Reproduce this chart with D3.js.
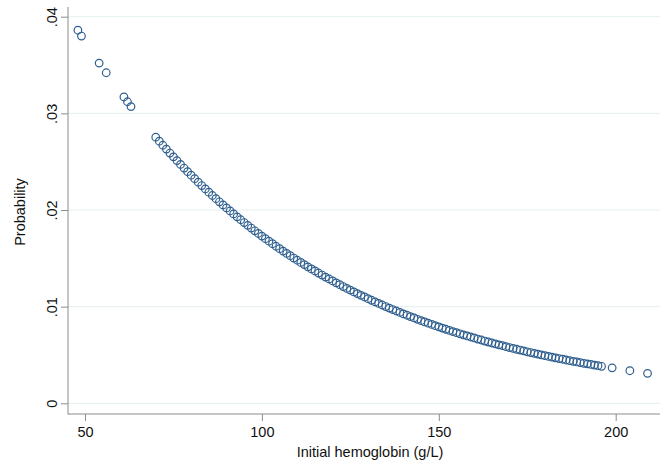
<!DOCTYPE html>
<html>
<head>
<meta charset="utf-8">
<script src="https://cdn.jsdelivr.net/npm/d3@7"></script>
<style>
  body { margin: 0; background: #fff; }
  svg { display: block; font-family: "Liberation Sans", Arial, sans-serif; }
  .tick text { fill: #111; font-size: 14.5px; }
</style>
</head>
<body>
<script>
// initial hemoglobin (g/L) and predicted probability
const hb = [48, 49, 54, 56, 61, 62, 63,
  70, 71, 72, 73, 74, 75, 76, 77, 78, 79,
  80, 81, 82, 83, 84, 85, 86, 87, 88, 89,
  90, 91, 92, 93, 94, 95, 96, 97, 98, 99,
  100, 101, 102, 103, 104, 105, 106, 107, 108, 109,
  110, 111, 112, 113, 114, 115, 116, 117, 118, 119,
  120, 121, 122, 123, 124, 125, 126, 127, 128, 129,
  130, 131, 132, 133, 134, 135, 136, 137, 138, 139,
  140, 141, 142, 143, 144, 145, 146, 147, 148, 149,
  150, 151, 152, 153, 154, 155, 156, 157, 158, 159,
  160, 161, 162, 163, 164, 165, 166, 167, 168, 169,
  170, 171, 172, 173, 174, 175, 176, 177, 178, 179,
  180, 181, 182, 183, 184, 185, 186, 187, 188, 189,
  190, 191, 192, 193, 194, 195, 196,
  199, 204, 209];

const prob = [.0386, .0380, .0352, .0342, .0317, .0312, .0307,
  .02754, .02712, .02670, .02630, .02589, .02550, .02511, .02472, .02434, .02397,
  .02360, .02324, .02288, .02253, .02218, .02184, .02150, .02117, .02085, .02053,
  .02021, .01990, .01959, .01929, .01899, .01870, .01841, .01813, .01785, .01757,
  .01730, .01703, .01677, .01651, .01625, .01600, .01575, .01551, .01527, .01503,
  .01480, .01457, .01435, .01412, .01390, .01369, .01348, .01327, .01306, .01286,
  .01266, .01246, .01227, .01208, .01189, .01171, .01152, .01135, .01117, .01100,
  .01082, .01066, .01049, .01033, .01017, .01001, .00985, .00970, .00955, .00940,
  .00925, .00911, .00897, .00883, .00869, .00855, .00842, .00829, .00816, .00803,
  .00791, .00778, .00766, .00754, .00742, .00731, .00719, .00708, .00697, .00686,
  .00676, .00665, .00655, .00644, .00634, .00624, .00615, .00605, .00596, .00586,
  .00577, .00568, .00559, .00551, .00542, .00533, .00525, .00517, .00509, .00501,
  .00493, .00485, .00478, .00470, .00463, .00456, .00448, .00441, .00434, .00428,
  .00421, .00414, .00408, .00402, .00395, .00389, .00383,
  .00367, .00337, .00310];

const xTicks = [50, 100, 150, 200];
const yTicks = [0, .01, .02, .03, .04];
const yTickLabels = ["0", ".01", ".02", ".03", ".04"];

const W = 661, H = 464;
const box = {left: 68, right: 660, top: 7, bottom: 414};

const x = d3.scaleLinear().domain([50, 200]).range([85, 615.7]);
const y = d3.scaleLinear().domain([0, .04]).range([403.3, 16.7]);

const svg = d3.select("body").append("svg")
  .attr("width", W)
  .attr("height", H);

// gridlines
svg.append("g")
  .selectAll("line")
  .data(yTicks)
  .enter().append("line")
    .attr("x1", box.left)
    .attr("x2", box.right)
    .attr("y1", d => y(d))
    .attr("y2", d => y(d))
    .attr("stroke", "#e4eff1")
    .attr("stroke-width", 1);

// y axis, labels turned on their side
const yAxis = svg.append("g")
  .attr("transform", "translate(" + box.left + ",0)")
  .call(d3.axisLeft(y)
    .tickValues(yTicks)
    .tickSize(7)
    .tickFormat((d, i) => yTickLabels[i]));
yAxis.select(".domain").remove();
yAxis.selectAll(".tick line").attr("stroke", "#8c8c8c");
yAxis.selectAll(".tick text")
  .attr("transform", "translate(-11,0) rotate(-90)")
  .attr("x", 0)
  .attr("y", 0)
  .attr("dy", 0)
  .attr("text-anchor", "middle");

// x axis
const xAxis = svg.append("g")
  .attr("transform", "translate(0," + box.bottom + ")")
  .call(d3.axisBottom(x)
    .tickValues(xTicks)
    .tickSize(7)
    .tickPadding(6)
    .tickFormat(d3.format("d")));
xAxis.select(".domain").remove();
xAxis.selectAll(".tick line").attr("stroke", "#8c8c8c");

// axis lines
svg.append("line")
  .attr("x1", box.left).attr("x2", box.left)
  .attr("y1", box.top).attr("y2", box.bottom + 0.5)
  .attr("stroke", "#8c8c8c");
svg.append("line")
  .attr("x1", box.left).attr("x2", box.right)
  .attr("y1", box.bottom).attr("y2", box.bottom)
  .attr("stroke", "#8c8c8c");

// points
svg.append("g")
  .selectAll("circle")
  .data(hb)
  .enter().append("circle")
    .attr("cx", d => x(d))
    .attr("cy", (d, i) => y(prob[i]))
    .attr("r", 3.8)
    .attr("fill", "none")
    .attr("stroke", "#2f5f8f")
    .attr("stroke-width", 1.2);

// axis titles
svg.append("text")
  .attr("x", 370)
  .attr("y", 457)
  .attr("text-anchor", "middle")
  .attr("font-size", "14.5px")
  .attr("fill", "#111")
  .text("Initial hemoglobin (g/L)");

svg.append("text")
  .attr("transform", "translate(25,212) rotate(-90)")
  .attr("text-anchor", "middle")
  .attr("font-size", "14.5px")
  .attr("fill", "#111")
  .text("Probability");
</script>
</body>
</html>
